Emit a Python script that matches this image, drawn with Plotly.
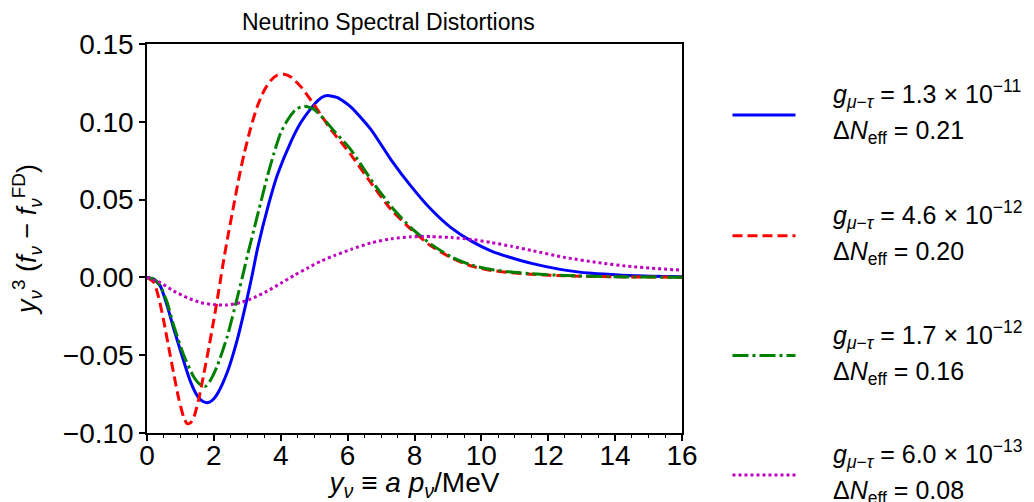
import plotly.graph_objects as go

# ---- data ----
x_blue = [0, 0.2, 0.4, 0.6, 0.8, 1.1, 1.3, 1.5, 1.65, 1.8, 1.95, 2.1, 2.4, 2.7, 3.0, 3.15, 3.3, 3.65, 3.9, 4.3,
          4.6, 4.9, 5.1, 5.3, 5.45, 5.7, 6.1, 6.7, 7.3, 7.9, 8.5, 9.1, 9.7, 10.3, 10.9, 11.5, 12.4, 13.3, 14.2,
          15.1, 16]
y_blue = [0, -0.001, -0.0056, -0.018, -0.033, -0.054, -0.067, -0.076, -0.0795, -0.0805, -0.079, -0.075, -0.061,
          -0.040, -0.013, 0.002, 0.018, 0.048, 0.066, 0.087, 0.0995, 0.1085, 0.1135, 0.1165, 0.1168, 0.1155,
          0.1095, 0.095, 0.0756, 0.0585, 0.0436, 0.0318, 0.0233, 0.0169, 0.0126, 0.0090, 0.0050, 0.0026, 0.0014,
          0.0007, 0.0004]

x_red = [0, 0.2, 0.35, 0.5, 0.65, 0.8, 0.95, 1.1, 1.2, 1.3, 1.4, 1.55, 1.7, 1.85, 2.0, 2.15, 2.3, 2.45, 2.6,
         2.75, 2.9, 3.1, 3.3, 3.5, 3.7, 3.9, 4.1, 4.3, 4.6, 4.9, 5.2, 5.5, 5.8, 6.1, 6.7, 7.3, 7.9, 8.5, 9.1,
         9.7, 10.3, 10.9, 11.5, 12.5, 14, 16]
y_red = [0, -0.003, -0.013, -0.028, -0.045, -0.062, -0.078, -0.090, -0.094, -0.0935, -0.090, -0.078, -0.062,
         -0.045, -0.027, -0.008, 0.012, 0.030, 0.047, 0.064, 0.079, 0.096, 0.110, 0.120, 0.1265, 0.130, 0.1305,
         0.1288, 0.1226, 0.114, 0.1045, 0.095, 0.087, 0.0788, 0.0607, 0.0436, 0.0308, 0.0201, 0.0126, 0.0073,
         0.0045, 0.0030, 0.0020, 0.0010, 0.0004, 0.0001]

x_green = [0, 0.2, 0.4, 0.6, 0.8, 1.1, 1.4, 1.6, 1.75, 1.9, 2.1, 2.4, 2.7, 2.85, 3.0, 3.2, 3.4, 3.6, 3.8, 4.0,
           4.2, 4.45, 4.7, 5.0, 5.3, 5.6, 6.1, 6.7, 7.3, 7.9, 8.5, 9.1, 9.7, 10.3, 10.9, 11.5, 12.5, 14, 16]
y_green = [0, -0.001, -0.0056, -0.016, -0.031, -0.050, -0.064, -0.069, -0.070, -0.066, -0.057, -0.038, -0.013,
           0.0, 0.0137, 0.031, 0.048, 0.065, 0.080, 0.093, 0.101, 0.108, 0.110, 0.108, 0.1015, 0.094, 0.082,
           0.0628, 0.0457, 0.0318, 0.0212, 0.0132, 0.0079, 0.0051, 0.0034, 0.0024, 0.0012, 0.0004, 0.0001]

x_mag = [0, 0.4, 0.8, 1.2, 1.6, 2.0, 2.4, 2.8, 3.2, 3.6, 4.0, 4.4, 4.8, 5.2, 5.6, 6.1, 6.7, 7.3, 7.9, 8.5, 9.1,
         9.7, 10.3, 10.9, 11.5, 12.5, 13.5, 14.5, 16]
y_mag = [0, -0.0034, -0.0088, -0.013, -0.0162, -0.0175, -0.0177, -0.0162, -0.013, -0.0088, -0.0038, 0.0013,
         0.006, 0.0105, 0.0140, 0.018, 0.0222, 0.0248, 0.0261, 0.0262, 0.0256, 0.0244, 0.0224, 0.0200, 0.0173,
         0.0128, 0.0095, 0.0069, 0.0046]

g_labels = [
    "<i>g</i><sub><i>μ</i>−<i>τ</i></sub> = 1.3 × 10<sup>−11</sup>",
    "<i>g</i><sub><i>μ</i>−<i>τ</i></sub> = 4.6 × 10<sup>−12</sup>",
    "<i>g</i><sub><i>μ</i>−<i>τ</i></sub> = 1.7 × 10<sup>−12</sup>",
    "<i>g</i><sub><i>μ</i>−<i>τ</i></sub> = 6.0 × 10<sup>−13</sup>",
]
n_labels = [
    "Δ<i>N</i><sub>eff</sub> = 0.21",
    "Δ<i>N</i><sub>eff</sub> = 0.20",
    "Δ<i>N</i><sub>eff</sub> = 0.16",
    "Δ<i>N</i><sub>eff</sub> = 0.08",
]
colors = ["#0000ff", "#ff0000", "#008000", "#bf00bf"]
dashes = ["solid", "10px,5px", "16px,4px,3px,4px", "3px,3px"]
xs = [x_blue, x_red, x_green, x_mag]
ys = [y_blue, y_red, y_green, y_mag]
legend_ids = ["legend", "legend2", "legend3", "legend4"]
legend_y = [0.8175, 0.507, 0.199, -0.108]   # paper y of each legend sample

FONT = "Liberation Sans, Arial, sans-serif"

fig = go.Figure()
for i in range(4):
    fig.add_trace(go.Scatter(
        x=xs[i], y=ys[i], mode="lines", name=" ", legend=legend_ids[i],
        hovertext=g_labels[i] + " " + n_labels[i],
        line=dict(color=colors[i], width=3, dash=dashes[i], shape="spline", smoothing=0.6),
    ))

layout_legends = {}
for i in range(4):
    layout_legends[legend_ids[i]] = dict(
        x=1.085, y=legend_y[i], xanchor="left", yanchor="middle",
        font=dict(size=10, family=FONT), itemwidth=63,
        bgcolor="rgba(0,0,0,0)", borderwidth=0,
    )

annotations = [dict(
    text="Neutrino Spectral Distortions", xref="paper", yref="paper",
    x=0.451, y=1.0, yshift=7, xanchor="center", yanchor="bottom",
    showarrow=False, font=dict(size=23, family=FONT),
)]
for i in range(4):
    annotations.append(dict(
        text=g_labels[i], xref="paper", yref="paper", x=1.278, y=legend_y[i], yshift=21,
        xanchor="left", yanchor="middle", showarrow=False, font=dict(size=25, family=FONT),
    ))
    annotations.append(dict(
        text=n_labels[i], xref="paper", yref="paper", x=1.278, y=legend_y[i], yshift=-17,
        xanchor="left", yanchor="middle", showarrow=False, font=dict(size=25, family=FONT),
    ))

fig.update_layout(
    width=1026, height=494,
    paper_bgcolor="white", plot_bgcolor="white",
    margin=dict(l=139, r=352, t=36, b=69, autoexpand=False),
    font=dict(family=FONT, color="black"),
    showlegend=True,
    annotations=annotations,
    **layout_legends,
)

fig.update_xaxes(
    range=[0, 16], tickmode="linear", tick0=0, dtick=2, automargin=False,
    ticks="outside", ticklen=6, tickwidth=1.5, tickcolor="black",
    minor=dict(ticks="outside", ticklen=3.5, dtick=0.5, tick0=0, tickcolor="black", tickwidth=1),
    showline=True, linecolor="black", linewidth=1.5, mirror=True,
    showgrid=False, zeroline=False, ticklabelstandoff=-9,
    tickfont=dict(size=28, family=FONT),
    title=dict(text="<i>y</i><sub><i>ν</i></sub> ≡ <i>a p</i><sub><i>ν</i></sub>/MeV",
               font=dict(size=28, family=FONT), standoff=2),
)
fig.update_yaxes(
    range=[-0.10, 0.15], tickmode="linear", tick0=-0.10, dtick=0.05, tickformat=".2f", automargin=False,
    ticks="outside", ticklen=6, tickwidth=1.5, tickcolor="black",
    showline=True, linecolor="black", linewidth=1.5, mirror=True,
    showgrid=False, zeroline=False,
    tickfont=dict(size=28, family=FONT),
    title=dict(text="<i>y</i><sub><i>ν</i></sub><sup>3</sup> (<i>f</i><sub><i>ν</i></sub> − <i>f</i><sub><i>ν</i></sub><sup>FD</sup>)",
               font=dict(size=27, family=FONT), standoff=20),
)

fig.write_html("out.html")
